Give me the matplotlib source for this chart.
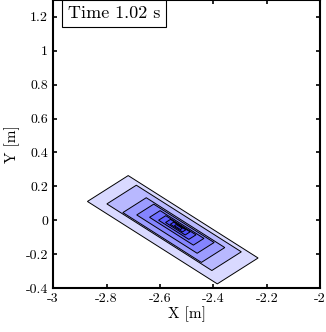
import numpy as np
import matplotlib
matplotlib.use("Agg")
import matplotlib.pyplot as plt

plt.rcParams['font.family'] = ['cmr10', 'DejaVu Serif']
plt.rcParams['axes.unicode_minus'] = False
plt.rcParams['mathtext.fontset'] = 'cm'

# nested rectangles (level sets), rotated -45 deg in data units
cx = [-2.552, -2.547, -2.548, -2.542, -2.537, -2.535, -2.533, -2.532, -2.531]
cy = [-0.056, -0.045, -0.058, -0.050, -0.045, -0.043, -0.041, -0.040, -0.040]
half_len = [0.344, 0.278, 0.208, 0.160, 0.116, 0.080, 0.052, 0.032, 0.016]
half_wid = [0.108, 0.078, 0.062, 0.045, 0.028, 0.019, 0.013, 0.009, 0.005]
time_label = "Time 1.02 s"

fig = plt.figure(figsize=(3.26, 3.32), dpi=100)
ax = fig.add_axes([0.163, 0.1325, 0.819, 0.8675])

u = np.array([1, -1]) / np.sqrt(2)
v = np.array([1, 1]) / np.sqrt(2)
for i in range(len(cx)):
    c = np.array([cx[i], cy[i]])
    a, b = half_len[i], half_wid[i]
    pts = np.array([c - a*u - b*v, c - a*u + b*v, c + a*u + b*v, c + a*u - b*v])
    ax.fill(pts[:, 0], pts[:, 1], facecolor='#0000ff', alpha=0.15, edgecolor='none')
    ax.fill(pts[:, 0], pts[:, 1], facecolor='none', edgecolor='black', lw=0.7)

ax.set_xlim(-3, -2)
ax.set_ylim(-0.4, 1.3)
ax.set_xticks(np.arange(-3, -1.99, 0.2))
ax.set_xticklabels(['-3', '-2.8', '-2.6', '-2.4', '-2.2', '-2'])
ax.set_yticks(np.arange(-0.4, 1.21, 0.2))
ax.set_yticklabels(['-0.4', '-0.2', '0', '0.2', '0.4', '0.6', '0.8', '1', '1.2'])
ax.tick_params(direction='in', top=True, right=True, labelsize=10, width=1.2, length=3)
for s in ax.spines.values():
    s.set_linewidth(1.5)
ax.set_xlabel('X [m]', fontsize=11, labelpad=1)
ax.set_ylabel('Y [m]', fontsize=11, labelpad=4)

ax.text(0.055, 0.98, time_label, transform=ax.transAxes, fontsize=13,
        va='top', ha='left',
        bbox=dict(boxstyle='square,pad=0.3', facecolor='white', edgecolor='black', lw=0.8))

fig.savefig('out.png', dpi=100)
